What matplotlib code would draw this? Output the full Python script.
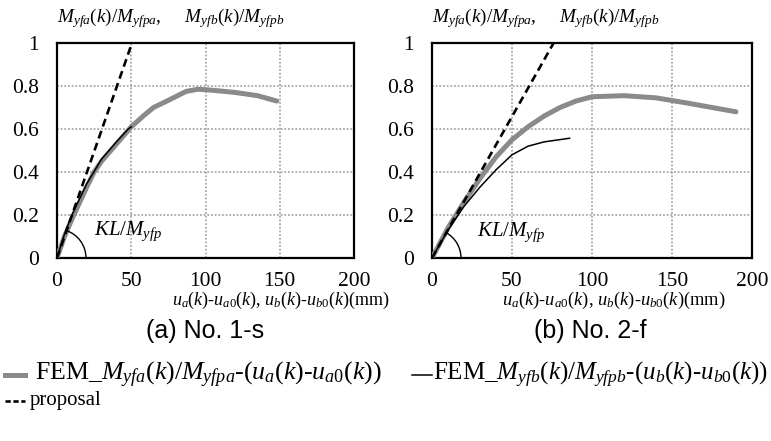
import numpy as np
import matplotlib
matplotlib.use("Agg")
import matplotlib.pyplot as plt
from matplotlib.patches import Arc
from matplotlib.lines import Line2D

plt.rcParams['font.family'] = ['Liberation Serif', 'DejaVu Serif']
plt.rcParams['mathtext.fontset'] = 'custom'
plt.rcParams['mathtext.rm'] = 'Liberation Serif'
plt.rcParams['mathtext.it'] = 'Liberation Serif:italic'
plt.rcParams['mathtext.bf'] = 'Liberation Serif:bold'

# ---- data (a) No. 1-s ----
a_fem_a_x = [0, 5, 10, 20, 25, 30, 40, 50, 58, 65, 74, 87, 95, 105, 120, 135, 148]
a_fem_a_y = [0, 0.10, 0.18, 0.33, 0.40, 0.45, 0.53, 0.61, 0.66, 0.70, 0.73, 0.775, 0.785, 0.78, 0.77, 0.755, 0.73]
a_fem_b_x = [0, 5, 10, 20, 30, 40, 48, 50]
a_fem_b_y = [0, 0.11, 0.20, 0.345, 0.46, 0.54, 0.60, 0.61]
a_prop_x = [0, 50.5]
a_prop_y = [0, 1.0]

# ---- data (b) No. 2-f ----
b_fem_a_x = [0, 10, 20, 30, 40, 50, 60, 70, 80, 90, 100, 120, 140, 160, 175, 190]
b_fem_a_y = [0, 0.14, 0.26, 0.37, 0.47, 0.55, 0.61, 0.66, 0.70, 0.73, 0.75, 0.755, 0.745, 0.72, 0.70, 0.68]
b_fem_b_x = [0, 10, 20, 30, 40, 50, 60, 70, 86]
b_fem_b_y = [0, 0.13, 0.24, 0.33, 0.41, 0.48, 0.52, 0.54, 0.557]
b_prop_x = [0, 76]
b_prop_y = [0, 1.0]

xticks = [0, 50, 100, 150, 200]
yticks = [0, 0.2, 0.4, 0.6, 0.8, 1]
ytick_labels = ['0', '0.2', '0.4', '0.6', '0.8', '1']

titles = ['(a) No. 1-s', '(b) No. 2-f']
ylabel_txt = r'$M_{yfa}(k)/M_{yfpa}$,     $M_{yfb}(k)/M_{yfpb}$'
xlabel_txt = r'$u_a(k)$-$u_{a0}(k)$, $u_b(k)$-$u_{b0}(k)$(mm)'
leg1 = r'FEM_$M_{yfa}(k)/M_{yfpa}$-($u_a(k)$-$u_{a0}(k)$)'
leg2 = r'FEM_$M_{yfb}(k)/M_{yfpb}$-($u_b(k)$-$u_{b0}(k)$)'
leg3 = 'proposal'

W, H = 771, 441
fig = plt.figure(figsize=(W / 100, H / 100), dpi=100)

GRAY = '#8a8a8a'

def make_axes(x0, x1, y_top, y_bot):
    return fig.add_axes([x0 / W, 1 - y_bot / H, (x1 - x0) / W, (y_bot - y_top) / H])

panels = [
    dict(ax=make_axes(57, 354, 43, 258), fa=(a_fem_a_x, a_fem_a_y), fb=(a_fem_b_x, a_fem_b_y),
         pr=(a_prop_x, a_prop_y), xl_size=13, xl_px=(390, 300), kl=(25, 0.125), title_x=205),
    dict(ax=make_axes(432, 752, 43, 258), fa=(b_fem_a_x, b_fem_a_y), fb=(b_fem_b_x, b_fem_b_y),
         pr=(b_prop_x, b_prop_y), xl_size=13.3, xl_px=(726, 300), kl=(28, 0.12), title_x=590),
]

for i, p in enumerate(panels):
    ax = p['ax']
    ax.set_xlim(0, 200)
    ax.set_ylim(0, 1)
    ax.set_xticks(xticks)
    ax.set_yticks(yticks)
    ax.set_yticklabels(ytick_labels)
    ax.tick_params(length=0, labelsize=15.5)
    ax.tick_params(axis='y', pad=13)
    ax.tick_params(axis='x', pad=10)
    ax.grid(True, color='#9a9a9a', linestyle=(0, (1.2, 1.2)), linewidth=1.1)
    for s in ax.spines.values():
        s.set_linewidth(1.6)
    ax.plot(*p['fa'], color=GRAY, lw=3.6, solid_capstyle='round', zorder=3)
    ax.plot(*p['fb'], color='black', lw=1.1, zorder=4)
    ax.plot(*p['pr'], color='black', lw=1.9, linestyle=(0, (3.0, 1.8)), zorder=5)
    # angle arc
    xw = 200.0 / (ax.get_position().width * W)
    yh = 1.0 / (ax.get_position().height * H)
    r = 29
    ang = np.degrees(np.arctan2(p['pr'][1][1], p['pr'][0][1]))
    ax.add_patch(Arc((0, 0), 2 * r * xw, 2 * r * yh, theta1=0, theta2=ang,
                     color='black', lw=1.0, zorder=6))
    ax.text(p['kl'][0], p['kl'][1], r'$KL/M_{yfp}$', fontsize=15, va='center', ha='left')
    ax.text(0.0, 1.06, ylabel_txt, transform=ax.transAxes, fontsize=13.8, ha='left', va='bottom')
    fig.text(p['xl_px'][0] / W, 1 - p['xl_px'][1] / H, xlabel_txt,
             fontsize=p['xl_size'], ha='right', va='center')
    fig.text(p['title_x'] / W, 1 - 331 / H, titles[i], family='Liberation Sans',
             fontsize=18, ha='center', va='center')

# legend (manually laid out)
y1 = 1 - 375 / H
y2 = 1 - 401 / H
fig.add_artist(Line2D([5 / W, 25 / W], [y1, y1], color=GRAY, lw=3.6))
fig.text(35 / W, y1, leg1, fontsize=18.6, ha='left', va='center')
fig.add_artist(Line2D([412 / W, 432 / W], [y1, y1], color='black', lw=1.1))
fig.text(433 / W, y1, leg2, fontsize=18, ha='left', va='center')
fig.add_artist(Line2D([5 / W, 25 / W], [y2, y2], color='black', lw=1.9, linestyle=(0, (2.0, 1.0))))
fig.text(30 / W, y2, leg3, fontsize=15, ha='left', va='center')

fig.savefig('out.png', dpi=100)
